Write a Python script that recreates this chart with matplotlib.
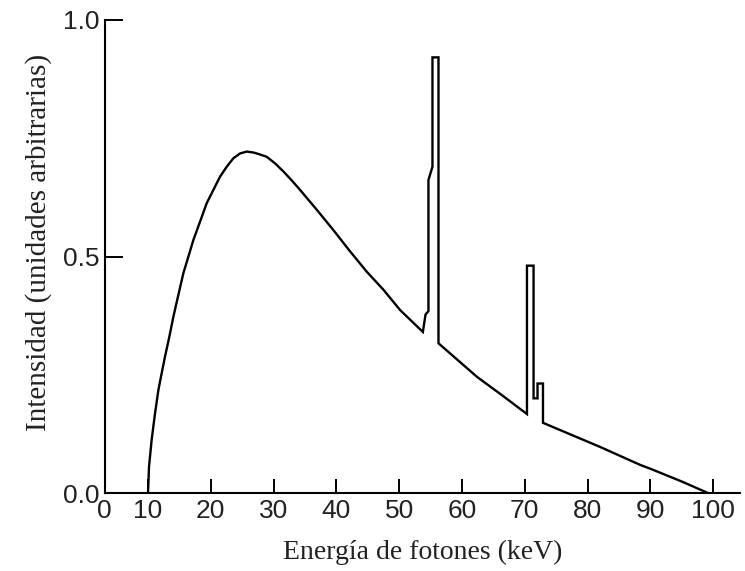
import numpy as np
import matplotlib
matplotlib.use("Agg")
import matplotlib.pyplot as plt

# x-ray spectrum: continuum + characteristic lines
energy_kev = [10.0, 10.16, 10.58, 11.12, 11.65, 12.18, 12.71, 13.40, 14.04, 14.83,
              15.63, 16.43, 17.22, 18.29, 19.35, 20.41, 21.47, 22.54, 23.60, 24.66,
              25.72, 26.79, 27.58, 28.91, 30.24, 31.56, 32.89, 34.22, 36.88, 39.53,
              42.19, 44.85, 47.5, 50.16, 53.77,
              54.2, 54.66, 54.66, 55.3, 55.3, 56.26, 56.26,
              62.4, 66.1, 70.35,
              70.35, 71.4, 71.4, 72.03, 72.03, 72.9, 72.9,
              82.0, 88.4, 90.0, 95.0, 99.3]
intensity = [0.0, 0.056, 0.113, 0.169, 0.218, 0.254, 0.289, 0.331, 0.373, 0.419,
             0.465, 0.500, 0.535, 0.574, 0.613, 0.641, 0.669, 0.690, 0.708, 0.718,
             0.722, 0.720, 0.717, 0.711, 0.697, 0.680, 0.661, 0.641, 0.599, 0.556,
             0.511, 0.468, 0.430, 0.387, 0.341,
             0.378, 0.385, 0.662, 0.690, 0.921, 0.921, 0.317,
             0.246, 0.210, 0.1675,
             0.481, 0.481, 0.2007, 0.2007, 0.232, 0.232, 0.149,
             0.098, 0.060, 0.052, 0.025, 0.0]

x_ticks = [3.1, 10, 20, 30, 40, 50, 60, 70, 80, 90, 100]
x_tick_labels = ["0", "10", "20", "30", "40", "50", "60", "70", "80", "90", "100"]
y_ticks = [0.0, 0.5, 1.0]

fig = plt.figure(figsize=(7.45, 5.71), dpi=100)
ax = fig.add_axes([0.1405, 0.136, 0.853, 0.829])

ax.plot(energy_kev, intensity, color="black", lw=1.7, solid_joinstyle="miter")

ax.set_xlim(3.1, 104.3)
ax.set_ylim(0, 1.0)
ax.spines["top"].set_visible(False)
ax.spines["right"].set_visible(False)
ax.spines["left"].set_linewidth(1.5)
ax.spines["bottom"].set_linewidth(1.5)

ax.set_xticks(x_ticks)
ax.set_xticklabels(x_tick_labels)
ax.set_yticks(y_ticks)
ax.set_yticklabels(["%.1f" % v for v in y_ticks])

ax.tick_params(axis="x", direction="in", length=10, width=1.4, pad=4,
               labelsize=19, colors="black")
ax.tick_params(axis="y", direction="in", length=13, width=1.4, pad=4,
               labelsize=19, colors="black")
for lab in ax.get_xticklabels() + ax.get_yticklabels():
    lab.set_family("Liberation Sans")
    lab.set_color("#222222")

ax.set_xlabel("Energía de fotones (keV)", family="Liberation Serif", fontsize=20,
              color="#222222", labelpad=12)
ax.set_ylabel("Intensidad (unidades arbitrarias)", family="Liberation Serif", fontsize=21,
              color="#222222")
ax.yaxis.set_label_coords(-0.083, 0.531)

fig.savefig("out.png", dpi=100, facecolor="white")
